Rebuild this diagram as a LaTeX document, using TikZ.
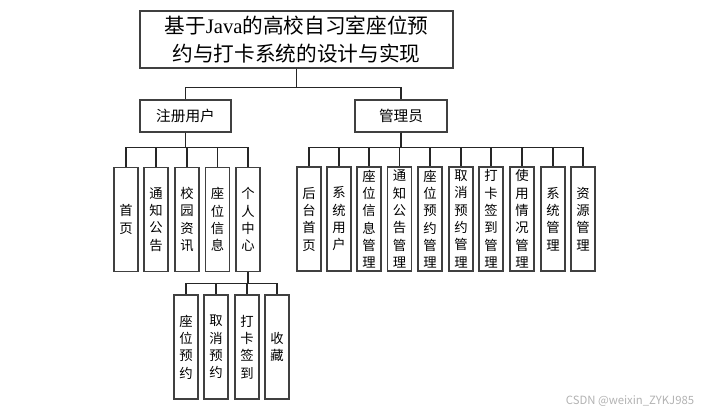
\documentclass[tikz,border=0pt]{standalone}
\usepackage{fontspec}
\setmainfont{Noto Sans CJK SC}
\newfontfamily\latinfont{Liberation Serif}
\usetikzlibrary{positioning}
\tikzset{box/.style = {draw=black!75, line width=0.8pt, inner sep=0pt, align=center},
         leaf/.style = {box, minimum width=18pt, minimum height=78pt,
                        font=\fontsize{10}{13}\selectfont},
         link/.style = {draw=black!85, line width=0.8pt}}

\begin{document}
\begin{tikzpicture}[x=0.75pt, y=-0.75pt]
    \useasboundingbox (0, 0) rectangle (717, 415);
    \node [box, minimum width=234.75pt, minimum height=42.75pt,
           font=\fontsize{15.5}{21}\selectfont] (sys) at (296.5, 39.5)
          {基于{\latinfont Java}的高校自习室座位预\\约与打卡系统的设计与实现};

    \node [box, minimum width=68.25pt, minimum height=24pt, font=\fontsize{11}{13}\selectfont] (user) at (185.5, 116) {注册用户};
    \node [box, minimum width=69pt, minimum height=24pt, font=\fontsize{11}{13}\selectfont] (admin) at (401, 116) {管理员};
    \draw [link] (sys.south) -- ++(0, 19) -| (user.north);
    \draw [link] (sys.south) -- ++(0, 19) -| (admin.north);

    % registered user
    \node [leaf] (home) at (126, 219.5) {首\\页};
    \node [leaf] (notice) at (156, 219.5) {通\\知\\公\\告};
    \node [leaf] (news) at (187, 219.5) {校\\园\\资\\讯};
    \node [leaf] (seat) at (217.5, 219.5) {座\\位\\信\\息};
    \node [leaf] (center) at (248, 219.5) {个\\人\\中\\心};
    \foreach \n in {home, notice, news, seat, center}
      \draw [link] (user.south) -- ++(0, 15) -| (\n.north);

    % personal center
    \node [leaf] (book) at (186, 347) {座\\位\\预\\约};
    \node [leaf] (cancel) at (216, 347) {取\\消\\预\\约};
    \node [leaf] (sign) at (247, 347) {打\\卡\\签\\到};
    \node [leaf] (fav) at (277, 347) {收\\藏};
    \foreach \n in {book, cancel, sign, fav}
      \draw [link] (center.south) -- ++(0, 11) -| (\n.north);

    % administrator
    \node [leaf] (back) at (309, 219) {后\\台\\首\\页};
    \node [leaf] (sysuser) at (339, 219) {系\\统\\用\\户};
    \node [leaf] (seatmg) at (369, 219) {座\\位\\信\\息\\管\\理};
    \node [leaf] (noticemg) at (399.5, 219) {通\\知\\公\\告\\管\\理};
    \node [leaf] (bookmg) at (430, 219) {座\\位\\预\\约\\管\\理};
    \node [leaf] (cancelmg) at (461, 219) {取\\消\\预\\约\\管\\理};
    \node [leaf] (signmg) at (491, 219) {打\\卡\\签\\到\\管\\理};
    \node [leaf] (usemg) at (522, 219) {使\\用\\情\\况\\管\\理};
    \node [leaf] (sysmg) at (553, 219) {系\\统\\管\\理};
    \node [leaf] (resmg) at (583, 219) {资\\源\\管\\理};
    \foreach \n in {back, sysuser, seatmg, noticemg, bookmg, cancelmg, signmg, usemg, sysmg, resmg}
      \draw [link] (admin.south) -- ++(0, 15) -| (\n.north);

    \node [text=black!30, font=\fontsize{8.5}{10}\selectfont] (mark) at (630, 401) {CSDN @weixin\_ZYKJ985};
\end{tikzpicture}
\end{document}
